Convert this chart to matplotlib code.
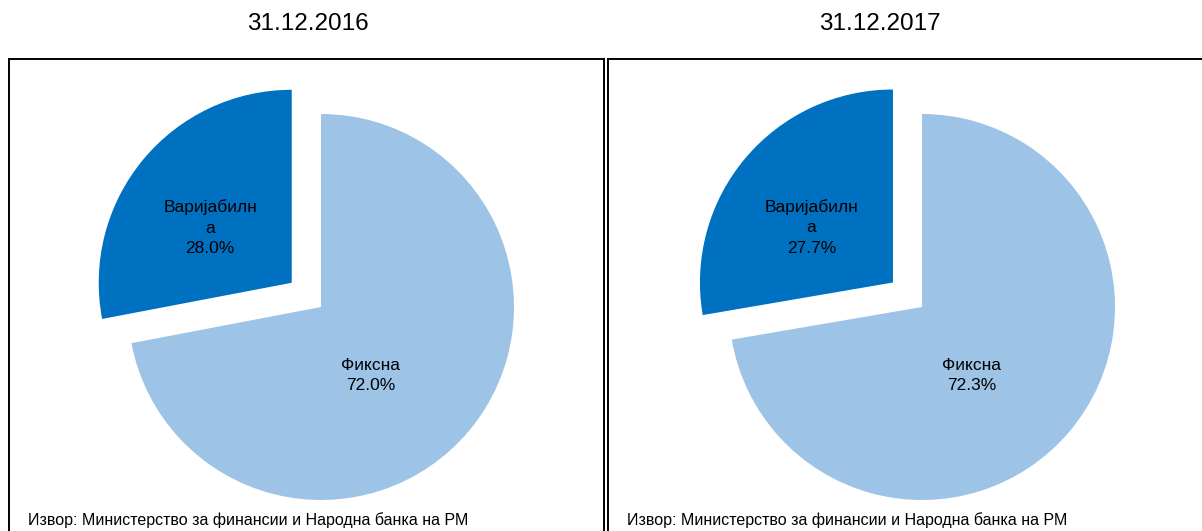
"""
Structure of debt by interest rate type (fixed vs variable), two dates.
"""

import numpy as np
import matplotlib
matplotlib.use("Agg")
import matplotlib.pyplot as plt

plt.rcParams["font.family"] = ["Liberation Sans Narrow", "Liberation Sans", "DejaVu Sans"]

dates = ["31.12.2016", "31.12.2017"]
categories = ["Фиксна", "Варијабилна"]
shown_names = ["Фиксна", "Варијабилн\nа"]
fixed_share = [72.0, 72.3]
variable_share = [28.0, 27.7]
source_note = "Извор: Министерство за финансии и Народна банка на РМ"

colors = ["#9DC3E6", "#0070C0"]

W, H = 1202, 531
fig = plt.figure(figsize=(W / 100, H / 100), dpi=100)


def px_axes(x0, top, x1, bottom):
    # axes placed in pixel coords (origin top-left), data units = pixels
    ax = fig.add_axes([x0 / W, 1 - bottom / H, (x1 - x0) / W, (bottom - top) / H])
    ax.set_xlim(x0, x1)
    ax.set_ylim(H - bottom, H - top)
    return ax


panels = [
    # box left, box right, pie centre x, title centre x
    (9, 604, 321, 308),
    (608, 1212, 922, 880),
]
radius = 193
explode_px = 38
# label placement inside each wedge: (fraction of radius, angle in degrees)
label_pos = [(0.44, -54), (0.51, 146)]

for i, (bx0, bx1, cx, tx) in enumerate(panels):
    ax = px_axes(bx0, 59, bx1, 560)
    values = [fixed_share[i], variable_share[i]]

    wedges, texts, autotexts = ax.pie(
        values,
        colors=colors,
        startangle=90,
        counterclock=False,
        radius=radius,
        center=(cx, H - 307),
        explode=[0, explode_px],
        autopct=lambda p: "",
        frame=True,
        wedgeprops=dict(linewidth=0),
    )

    for k, (w, name) in enumerate(zip(wedges, shown_names)):
        frac, ang = label_pos[k]
        wx, wy = w.center
        a = np.deg2rad(ang)
        ax.text(
            wx + frac * radius * np.cos(a),
            wy + frac * radius * np.sin(a),
            f"{name}\n{values[k]:.1f}%",
            ha="center",
            va="center",
            fontsize=12.5,
            linespacing=1.45,
            color="black",
        )

    ax.set_xlim(bx0, bx1)
    ax.set_ylim(H - 560, H - 59)
    ax.set_aspect("auto")
    ax.set_xticks([])
    ax.set_yticks([])
    for s in ax.spines.values():
        s.set_linewidth(1.4)
        s.set_color("black")

    fig.text(tx / W, 1 - 24 / H, dates[i], ha="center", va="center", fontsize=17.5)
    fig.text((bx0 + 19) / W, 1 - 520 / H, source_note, ha="left", va="center", fontsize=11.5)

fig.savefig("out.png", dpi=100)
